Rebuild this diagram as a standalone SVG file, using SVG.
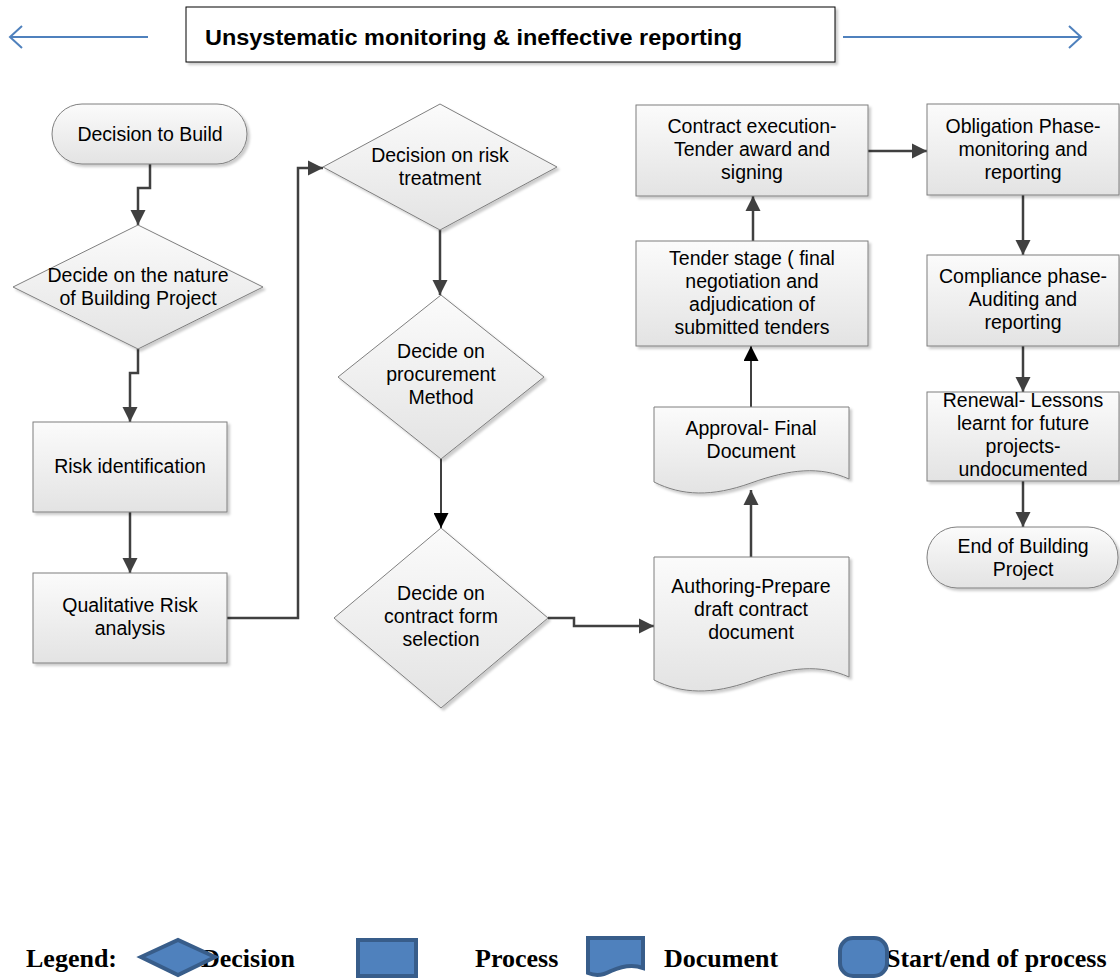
<svg xmlns="http://www.w3.org/2000/svg" width="1120" height="980" viewBox="0 0 1120 980">
  <defs>
    <linearGradient id="shade" x1="0" y1="0" x2="0" y2="1">
      <stop offset="0" stop-color="#fbfbfb"/>
      <stop offset="1" stop-color="#e3e3e3"/>
    </linearGradient>
    <filter id="shadow" x="-10%" y="-10%" width="130%" height="130%">
      <feDropShadow dx="2.5" dy="2.5" stdDeviation="1.2" flood-color="#000" flood-opacity="0.2"/>
    </filter>
    <marker id="arrowGray" viewBox="0 0 10 10" refX="10" refY="5" markerUnits="userSpaceOnUse" markerWidth="15" markerHeight="16" orient="auto">
      <path d="M0,0 L10,5 L0,10 z" fill="#404040"/>
    </marker>
    <marker id="arrowBlack" viewBox="0 0 10 10" refX="10" refY="5" markerUnits="userSpaceOnUse" markerWidth="15" markerHeight="15" orient="auto">
      <path d="M0,0 L10,5 L0,10 z" fill="#000"/>
    </marker>
  </defs>
  <style>
    .shape { fill: url(#shade); stroke: #7f7f7f; stroke-width: 1; filter: url(#shadow); }
    .label { font-family: "Liberation Sans", Arial, sans-serif; font-size: 19.5px; fill: #000; text-anchor: middle; }
    .flow { fill: none; stroke: #404040; stroke-width: 2.5; marker-end: url(#arrowGray); }
    .flowThin { fill: none; stroke: #000; stroke-width: 1.5; marker-end: url(#arrowBlack); }
    .banner { fill: none; stroke: #4f81bd; stroke-width: 2; }
    .legendShape { fill: #4f81bd; stroke: #385d8a; stroke-width: 4; }
    .legendText { font-family: "Liberation Serif", "Times New Roman", serif; font-weight: bold; font-size: 26px; fill: #000; }
  </style>

  <rect width="1120" height="980" fill="#fff"/>

  <!-- Banner across the top -->
  <g id="banner">
    <path class="banner" d="M148,37 H10 M22,26 L10,37 L22,48"/>
    <path class="banner" d="M843,37 H1081 M1069,26 L1081,37 L1069,48"/>
    <rect x="186" y="7" width="649" height="55" fill="#fff" stroke="#000" stroke-width="1" filter="url(#shadow)"/>
    <text x="205" y="45" font-family="Liberation Sans, Arial, sans-serif" font-weight="bold" font-size="22" textLength="537" lengthAdjust="spacingAndGlyphs">Unsystematic monitoring &amp; ineffective reporting</text>
  </g>

  <!-- Connectors -->
  <g id="connectors">
    <path class="flow" d="M150,164 V188 H138 V225"/>
    <path class="flow" d="M138,349 V373 H130 V422"/>
    <path class="flow" d="M130,512 V573"/>
    <path class="flow" d="M227,618 H298 V168 H323"/>
    <path class="flow" d="M440,230 V295"/>
    <path class="flowThin" d="M441,459 V528"/>
    <path class="flow" d="M548,618 H574 V626 H654"/>
    <path class="flow" d="M751,557 V490"/>
    <path class="flowThin" d="M751,407 V346"/>
    <path class="flow" d="M753,241 V196"/>
    <path class="flow" d="M868,151 H927"/>
    <path class="flow" d="M1023,195 V255"/>
    <path class="flow" d="M1023,346 V392"/>
    <path class="flow" d="M1023,481 V527"/>
  </g>

  <!-- Left column -->
  <g id="decision-to-build">
    <rect class="shape" x="52" y="104" width="195" height="60" rx="30"/>
    <text class="label" x="150" y="141">Decision to Build</text>
  </g>
  <g id="nature-of-project">
    <polygon class="shape" points="138,225 263,287 138,349 13,287"/>
    <text class="label" x="138" y="282">Decide on the nature</text>
    <text class="label" x="138" y="305">of Building Project</text>
  </g>
  <g id="risk-identification">
    <rect class="shape" x="33" y="422" width="194" height="90"/>
    <text class="label" x="130" y="473">Risk identification</text>
  </g>
  <g id="qualitative-risk">
    <rect class="shape" x="33" y="573" width="194" height="90"/>
    <text class="label" x="130" y="612">Qualitative Risk</text>
    <text class="label" x="130" y="635">analysis</text>
  </g>

  <!-- Middle column -->
  <g id="risk-treatment">
    <polygon class="shape" points="440,104 557,167 440,230 323,167"/>
    <text class="label" x="440" y="162">Decision on risk</text>
    <text class="label" x="440" y="185">treatment</text>
  </g>
  <g id="procurement-method">
    <polygon class="shape" points="441,295 544,377 441,459 338,377"/>
    <text class="label" x="441" y="358">Decide on</text>
    <text class="label" x="441" y="381">procurement</text>
    <text class="label" x="441" y="404">Method</text>
  </g>
  <g id="contract-form">
    <polygon class="shape" points="441,528 548,618 441,708 334,618"/>
    <text class="label" x="441" y="600">Decide on</text>
    <text class="label" x="441" y="623">contract form</text>
    <text class="label" x="441" y="646">selection</text>
  </g>

  <!-- Contract column -->
  <g id="authoring">
    <path class="shape" d="M654,557 H849 V677 C820,664 790,667 751,681 C712,695 682,694 654,680 Z"/>
    <text class="label" x="751" y="593">Authoring-Prepare</text>
    <text class="label" x="751" y="616">draft contract</text>
    <text class="label" x="751" y="639">document</text>
  </g>
  <g id="approval">
    <path class="shape" d="M654,407 H849 V479 C820,466 790,469 751,483 C712,497 682,496 654,482 Z"/>
    <text class="label" x="751" y="435">Approval- Final</text>
    <text class="label" x="751" y="458">Document</text>
  </g>
  <g id="tender-stage">
    <rect class="shape" x="636" y="241" width="232" height="105"/>
    <text class="label" x="752" y="265">Tender stage ( final</text>
    <text class="label" x="752" y="288">negotiation and</text>
    <text class="label" x="752" y="311">adjudication of</text>
    <text class="label" x="752" y="334">submitted tenders</text>
  </g>
  <g id="contract-execution">
    <rect class="shape" x="636" y="105" width="232" height="91"/>
    <text class="label" x="752" y="133">Contract execution-</text>
    <text class="label" x="752" y="156">Tender award and</text>
    <text class="label" x="752" y="179">signing</text>
  </g>

  <!-- Right column -->
  <g id="obligation">
    <rect class="shape" x="927" y="104" width="192" height="91"/>
    <text class="label" x="1023" y="133">Obligation Phase-</text>
    <text class="label" x="1023" y="156">monitoring and</text>
    <text class="label" x="1023" y="179">reporting</text>
  </g>
  <g id="compliance">
    <rect class="shape" x="927" y="255" width="192" height="91"/>
    <text class="label" x="1023" y="283">Compliance phase-</text>
    <text class="label" x="1023" y="306">Auditing and</text>
    <text class="label" x="1023" y="329">reporting</text>
  </g>
  <g id="renewal">
    <rect class="shape" x="927" y="392" width="192" height="89"/>
    <text class="label" x="1023" y="407">Renewal- Lessons</text>
    <text class="label" x="1023" y="430">learnt for future</text>
    <text class="label" x="1023" y="453">projects-</text>
    <text class="label" x="1023" y="476">undocumented</text>
  </g>
  <g id="end-of-project">
    <rect class="shape" x="927" y="527" width="191" height="61" rx="30"/>
    <text class="label" x="1023" y="553">End of Building</text>
    <text class="label" x="1023" y="576">Project</text>
  </g>

  <!-- Legend -->
  <g id="legend">
    <text class="legendText" x="26" y="967">Legend:</text>
    <text class="legendText" x="201" y="967">Decision</text>
    <polygon class="legendShape" points="141,957 178,940 215,957 178,975"/>
    <rect class="legendShape" x="358" y="940" width="58" height="36"/>
    <text class="legendText" x="475" y="967">Process</text>
    <path class="legendShape" d="M588,938 H643 V968 C632,964 620,967 611,971 C602,976 595,976 588,973 Z"/>
    <text class="legendText" x="664" y="967">Document</text>
    <text class="legendText" x="886" y="967" font-size="26.5">Start/end of process</text>
    <rect class="legendShape" x="840" y="938" width="47" height="38" rx="13"/>
  </g>
</svg>
